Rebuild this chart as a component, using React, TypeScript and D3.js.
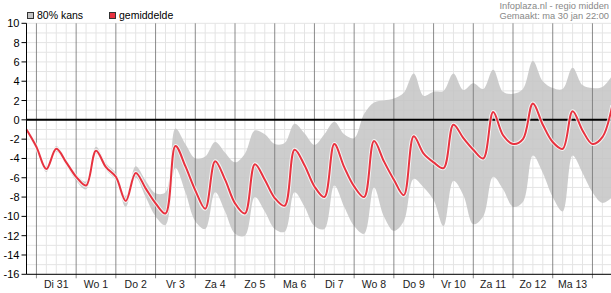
import React, { useEffect, useRef } from "react";
import * as d3 from "d3";

const width = 611;
const height = 293;

// 6-hourly values, starting ma 30 jan 18:00
const startTime = new Date(2012, 0, 30, 18);
const meanTemp = [
  -1.0, -2.8, -5.1, -3.0, -4.4, -5.9, -6.8, -3.2, -4.9, -5.9,
  -8.4, -5.5, -7.1, -8.65, -9.7, -2.7, -4.8, -7.3, -9.2, -4.3,
  -6.2, -8.65, -9.7, -4.6, -6.2, -8.1, -8.9, -3.1, -4.7, -6.9,
  -8.0, -2.5, -4.9, -6.9, -8.0, -2.2, -4.3, -6.2, -7.8, -1.7,
  -3.5, -4.4, -5.0, -0.5, -1.9, -3.1, -4.0, 0.8, -1.6, -2.5,
  -2.0, 1.7, -0.5, -2.3, -3.0, 0.9, -1.1, -2.5, -1.8, 1.5,
];
const upperTemp = [
  -0.8, -2.5, -4.8, -2.7, -4.1, -5.6, -6.4, -2.8, -4.5, -5.5,
  -7.9, -4.8, -6.3, -7.6, -7.5, -0.9, -2.5, -4.0, -3.8, -2.3,
  -3.4, -4.4, -3.5, -1.1, -1.5, -2.5, -2.4, -0.4, -1.4, -2.6,
  -1.5, -0.2, -1.5, -1.9, 0.6, 1.8, 2.0, 2.2, 2.8, 4.8,
  2.5, 2.9, 3.0, 4.8, 3.1, 3.8, 3.2, 5.2, 2.9, 2.7,
  3.2, 6.1, 4.0, 3.3, 3.2, 5.4, 3.6, 3.3, 3.4, 4.6,
];
const lowerTemp = [
  -1.2, -3.1, -5.4, -3.3, -4.7, -6.3, -7.2, -3.5, -5.2, -6.3,
  -9.0, -6.0, -8.0, -10.0, -10.9, -5.0, -7.5, -10.5, -11.3, -7.5,
  -9.5, -11.8, -12.0, -8.0, -9.5, -11.3, -11.6, -7.5, -9.0, -11.0,
  -11.3, -6.8, -9.0, -11.0, -11.8, -7.0, -10.0, -11.5, -10.5, -6.1,
  -7.0, -8.3, -11.0, -6.3, -7.8, -10.8, -10.0, -5.9, -7.2, -9.0,
  -8.5, -3.7, -5.5, -8.0, -9.5, -3.7, -5.5, -7.5, -8.6, -8.0,
];
const dayLabels = [
  "Di 31", "Wo 1", "Do 2", "Vr 3", "Za 4", "Zo 5", "Ma 6",
  "Di 7", "Wo 8", "Do 9", "Vr 10", "Za 11", "Zo 12", "Ma 13",
];
const yTicks = [10, 8, 6, 4, 2, 0, -2, -4, -6, -8, -10, -12, -14, -16];
const legendLabels = ["80% kans", "gemiddelde"];
const creditLines = ["Infoplaza.nl - regio midden", "Gemaakt: ma 30 jan 22:00"];

const HOUR = 3600 * 1000;
const font = "'Liberation Sans', Arial, sans-serif";

export default function App() {
  const ref = useRef<SVGSVGElement | null>(null);

  useEffect(() => {
    const svg = d3.select(ref.current);
    svg.selectAll("*").remove();

    const left = 26.5;
    const top = 23.3;
    const bottom = 274.3;
    const endTime = new Date(startTime.getTime() + 354 * HOUR);

    const x = d3.scaleTime([startTime, endTime], [left, 612.3]);
    const y = d3.scaleLinear([-16, 10], [bottom, top]);

    const times = meanTemp.map((_, i) => new Date(startTime.getTime() + i * 6 * HOUR));

    const grid = svg.append("g");
    // minor horizontal grid, every degree
    grid
      .selectAll(".hgrid")
      .data(d3.range(-16, 11))
      .enter()
      .append("line")
      .attr("x1", left)
      .attr("x2", width)
      .attr("y1", (d) => y(d))
      .attr("y2", (d) => y(d))
      .attr("stroke", "#e4e4e4");
    // 6-hour vertical grid
    const sixHours = d3.timeHour.every(6)!.range(startTime, endTime);
    grid
      .selectAll(".vgrid")
      .data(sixHours.filter((d) => d.getHours() !== 0))
      .enter()
      .append("line")
      .attr("x1", (d) => x(d))
      .attr("x2", (d) => x(d))
      .attr("y1", top)
      .attr("y2", bottom)
      .attr("stroke", "#e4e4e4");

    const days = d3.timeDay.range(startTime, endTime);

    // band
    const area = d3
      .area<number>()
      .x((_, i) => x(times[i]))
      .y0((_, i) => y(lowerTemp[i]))
      .y1((d) => y(d))
      .curve(d3.curveCatmullRom.alpha(0.5));
    svg
      .append("path")
      .attr("d", area(upperTemp))
      .attr("fill", "#c4c4c4")
      .attr("opacity", 0.85);

    // day lines
    svg
      .append("g")
      .selectAll("line")
      .data(days)
      .enter()
      .append("line")
      .attr("x1", (d) => x(d))
      .attr("x2", (d) => x(d))
      .attr("y1", top)
      .attr("y2", bottom + 4)
      .attr("stroke", "#777")
      .attr("stroke-opacity", 0.85);

    // zero line
    svg
      .append("line")
      .attr("x1", left)
      .attr("x2", width)
      .attr("y1", y(0))
      .attr("y2", y(0))
      .attr("stroke", "#000")
      .attr("stroke-width", 2);

    // mean line
    const line = d3
      .line<number>()
      .x((_, i) => x(times[i]))
      .y((d) => y(d))
      .curve(d3.curveCatmullRom.alpha(0.5));
    svg
      .append("path")
      .attr("d", line(meanTemp))
      .attr("fill", "none")
      .attr("stroke", "#fff")
      .attr("stroke-opacity", 0.75)
      .attr("stroke-width", 4);
    svg
      .append("path")
      .attr("d", line(meanTemp))
      .attr("fill", "none")
      .attr("stroke", "#e8323f")
      .attr("stroke-width", 2);

    // axes
    svg
      .append("line")
      .attr("x1", left)
      .attr("x2", left)
      .attr("y1", top)
      .attr("y2", bottom)
      .attr("stroke", "#000");
    svg
      .append("line")
      .attr("x1", left)
      .attr("x2", width)
      .attr("y1", bottom)
      .attr("y2", bottom)
      .attr("stroke", "#000");

    const yAxis = svg.append("g");
    yAxis
      .selectAll("line")
      .data(yTicks)
      .enter()
      .append("line")
      .attr("x1", left - 5)
      .attr("x2", left)
      .attr("y1", (d) => y(d))
      .attr("y2", (d) => y(d))
      .attr("stroke", "#000");
    yAxis
      .selectAll("text")
      .data(yTicks)
      .enter()
      .append("text")
      .attr("x", left - 7)
      .attr("y", (d) => y(d) + 4)
      .attr("text-anchor", "end")
      .attr("font-family", font)
      .attr("font-size", 11)
      .attr("fill", "#000")
      .text((d) => d);

    svg
      .append("g")
      .selectAll("text")
      .data(dayLabels)
      .enter()
      .append("text")
      .attr("x", (_, i) => x(new Date(days[i].getTime() + 12 * HOUR)))
      .attr("y", 288)
      .attr("text-anchor", "middle")
      .attr("font-family", font)
      .attr("font-size", 10.5)
      .attr("fill", "#222")
      .text((d) => d);

    // legend
    const legendColors = ["#c4c4c4", "#e8323f"];
    const legendX = [27, 109];
    const legend = svg
      .append("g")
      .selectAll("g")
      .data(legendLabels)
      .enter()
      .append("g")
      .attr("transform", (_, i) => `translate(${legendX[i]},12)`);
    legend
      .append("rect")
      .attr("x", 0.5)
      .attr("y", 0.5)
      .attr("width", 6)
      .attr("height", 6)
      .attr("fill", (_, i) => legendColors[i])
      .attr("stroke", "#333");
    legend
      .append("text")
      .attr("x", 10)
      .attr("y", 7)
      .attr("font-family", font)
      .attr("font-size", 10.5)
      .attr("fill", "#000")
      .text((d) => d);

    // credits
    svg
      .append("g")
      .selectAll("text")
      .data(creditLines)
      .enter()
      .append("text")
      .attr("x", 609)
      .attr("y", (_, i) => 8.5 + i * 10.5)
      .attr("text-anchor", "end")
      .attr("font-family", font)
      .attr("font-size", 9.3)
      .attr("fill", "#888")
      .text((d) => d);
  }, []);

  return (
    <svg
      ref={ref}
      width={width}
      height={height}
      style={{ position: "absolute", left: 0, top: 0, background: "#fff" }}
    />
  );
}
